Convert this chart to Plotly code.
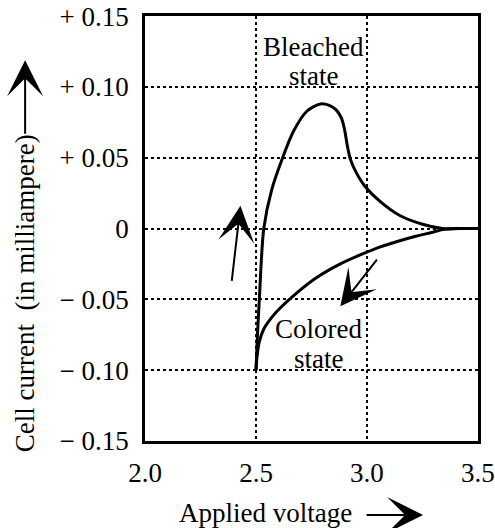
import plotly.graph_objects as go

# ---- data ----
bleached_v = [2.50, 2.505, 2.515, 2.535, 2.57, 2.62, 2.67, 2.73, 2.79, 2.83, 2.86, 2.885, 2.90,
              2.912, 2.925, 2.95, 2.99, 3.06, 3.15, 3.25, 3.34, 3.42, 3.50]
bleached_i = [-0.100, -0.080, -0.050, 0.000, 0.027, 0.050, 0.069, 0.083, 0.088, 0.087, 0.084, 0.078,
              0.069, 0.058, 0.049, 0.040, 0.030, 0.019, 0.009, 0.003, 0.000, 0.000, 0.000]

colored_v = [2.50, 2.505, 2.515, 2.535, 2.57, 2.61, 2.68, 2.77, 2.88, 2.98, 3.06, 3.14, 3.22,
             3.30, 3.34, 3.42, 3.50]
colored_i = [-0.100, -0.090, -0.080, -0.071, -0.063, -0.056, -0.046, -0.035, -0.025, -0.018,
             -0.013, -0.009, -0.0055, -0.0025, -0.0008, 0.000, 0.000]

x_ticks = [2.0, 2.5, 3.0, 3.5]
x_ticktext = ["2.0", "2.5", "3.0", "3.5"]
y_ticks = [0.15, 0.10, 0.05, 0.0, -0.05, -0.10, -0.15]
y_ticktext = ["+ 0.15", "+ 0.10", "+ 0.05", "0", "\u2212 0.05", "\u2212 0.10", "\u2212 0.15"]

FONT = "Liberation Serif, serif"
FS = 27

fig = go.Figure()
fig.add_trace(go.Scatter(x=bleached_v, y=bleached_i, mode="lines",
                         line=dict(color="black", width=3, shape="spline", smoothing=0.8),
                         showlegend=False, hoverinfo="skip"))
fig.add_trace(go.Scatter(x=colored_v, y=colored_i, mode="lines",
                         line=dict(color="black", width=3, shape="spline", smoothing=0.8),
                         showlegend=False, hoverinfo="skip"))

axis_common = dict(showline=True, mirror=True, linecolor="black", linewidth=2.5,
                   showgrid=True, gridcolor="black", gridwidth=1.5, griddash="dot",
                   zeroline=False, ticks="", ticklabeloverflow="allow", automargin=False,
                   tickfont=dict(family=FONT, size=FS, color="black"))

fig.update_xaxes(range=[1.9999, 3.5001], tickvals=x_ticks, ticktext=x_ticktext,
                 ticklabelstandoff=6, **axis_common)
fig.update_yaxes(range=[-0.1501, 0.1501], tickvals=y_ticks, ticktext=y_ticktext,
                 ticklabelstandoff=8, **axis_common)

ann = []
for txt, x, y in [("Bleached", 2.76, 0.128), ("state", 2.76, 0.108),
                  ("Colored", 2.78, -0.071), ("state", 2.78, -0.092)]:
    ann.append(dict(text=txt, x=x, y=y, xref="x", yref="y", showarrow=False,
                    font=dict(family=FONT, size=FS, color="black"),
                    xanchor="center", yanchor="middle"))
arrow_style = dict(showarrow=True, arrowhead=3, arrowsize=3, arrowwidth=2, arrowcolor="black", text="")
ann.append(dict(x=2.43, y=0.016, ax=2.39, ay=-0.038, xref="x", yref="y", axref="x", ayref="y",
                **arrow_style))
ann.append(dict(x=2.88, y=-0.055, ax=3.05, ay=-0.021, xref="x", yref="y", axref="x", ayref="y",
                **arrow_style))
ann.append(dict(text="Cell current  (in milliampere)", x=-0.36, y=0.348, xref="paper", yref="paper",
                textangle=-90, showarrow=False, xanchor="center", yanchor="middle",
                font=dict(family=FONT, size=FS, color="black")))
ann.append(dict(x=-0.36, y=0.896, xref="paper", yref="paper", ax=0, ay=75, **arrow_style))
ann.append(dict(text="Applied voltage", x=0.363, y=-0.169, xref="paper", yref="paper",
                showarrow=False, xanchor="center", yanchor="middle",
                font=dict(family=FONT, size=FS, color="black")))
ann.append(dict(x=0.835, y=-0.174, xref="paper", yref="paper", ax=-58, ay=0, **arrow_style))

fig.update_layout(width=495, height=528, margin=dict(l=145, r=17, t=16, b=87),
                  paper_bgcolor="white", plot_bgcolor="white", annotations=ann,
                  font=dict(family=FONT, size=FS, color="black"))

fig.write_html("out.html")
